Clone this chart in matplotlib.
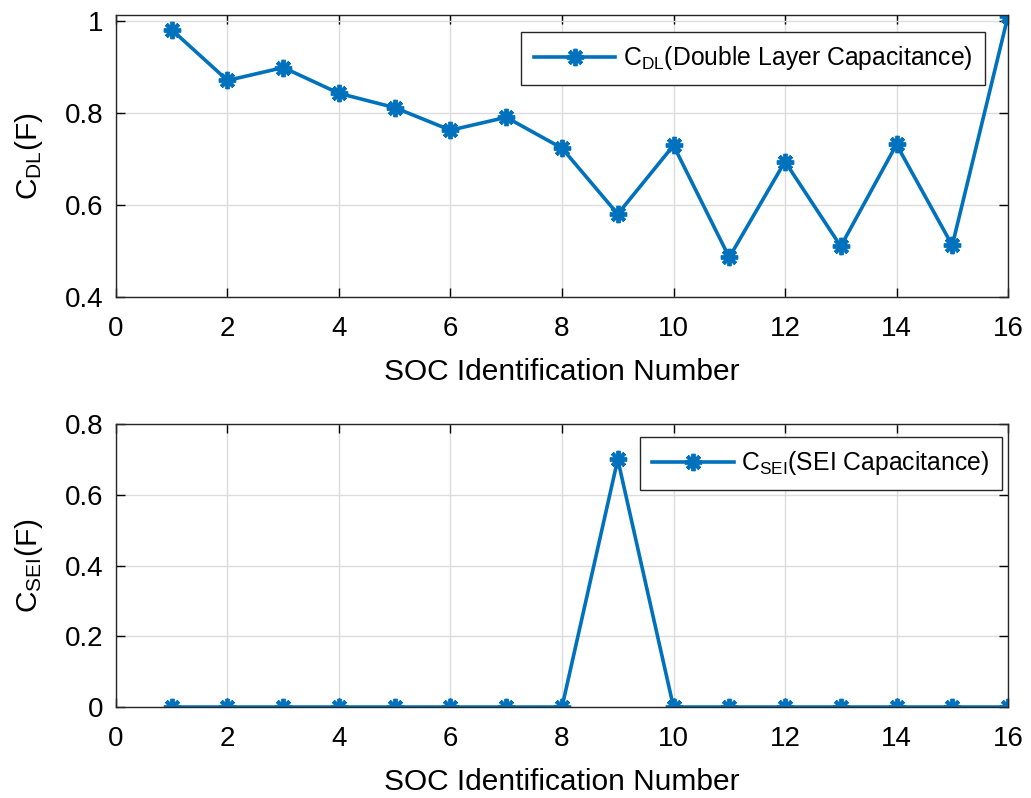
import matplotlib
matplotlib.use("Agg")
import matplotlib.pyplot as plt

plt.rcParams['font.family'] = ['Liberation Sans', 'DejaVu Sans']
plt.rcParams['mathtext.default'] = 'regular'

soc_id = list(range(1, 17))
c_dl = [0.980, 0.870, 0.898, 0.842, 0.811, 0.762, 0.790, 0.723,
        0.580, 0.729, 0.486, 0.694, 0.510, 0.731, 0.512, 1.010]
c_sei = [0, 0, 0, 0, 0, 0, 0, 0, 0.70, 0, 0, 0, 0, 0, 0, 0]

blue = '#0072BD'
star = (8, 2, 0)

fig = plt.figure(figsize=(10.31, 7.98), dpi=100)
ax1 = fig.add_axes([0.1125, 0.6278, 0.8652, 0.3534])
ax2 = fig.add_axes([0.1125, 0.1140, 0.8652, 0.3547])

def style(ax):
    ax.grid(True, color='#dcdcdc', linewidth=1)
    ax.set_axisbelow(True)
    ax.tick_params(direction='in', labelsize=20, length=6.5, width=1,
                   top=True, right=True)
    ax.tick_params(axis='x', pad=14)
    ax.tick_params(axis='y', pad=9)
    for s in ax.spines.values():
        s.set_linewidth(1)
        s.set_color('#262626')
    ax.set_xlim(0, 16)
    ax.set_xticks(range(0, 17, 2))
    ax.set_xlabel('SOC Identification Number', fontsize=21.5, labelpad=11)

def add_legend(ax, anchor):
    leg = ax.legend(loc='upper right', fontsize=17.8, fancybox=False,
                    edgecolor='#262626', framealpha=1, handlelength=3.3,
                    handletextpad=0.3, bbox_to_anchor=anchor,
                    borderpad=0.5, borderaxespad=0)
    leg.get_frame().set_linewidth(1)

ax1.plot(soc_id, c_dl, color=blue, linewidth=2.6, marker=star,
         markersize=12.5, markeredgewidth=2.8,
         label='C$_{DL}$(Double Layer Capacitance)')
style(ax1)
ax1.set_ylim(0.4, 1.012)
ax1.set_yticks([0.4, 0.6, 0.8, 1.0])
ax1.set_yticklabels(['0.4', '0.6', '0.8', '1'])
ax1.set_ylabel('C$_{DL}$(F)', fontsize=21.5, labelpad=14)
add_legend(ax1, (0.974, 0.940))

ax2.plot(soc_id, c_sei, color=blue, linewidth=2.6, marker=star,
         markersize=12.5, markeredgewidth=2.8,
         label='C$_{SEI}$(SEI Capacitance)')
style(ax2)
ax2.set_ylim(0, 0.8)
ax2.set_yticks([0, 0.2, 0.4, 0.6, 0.8])
ax2.set_yticklabels(['0', '0.2', '0.4', '0.6', '0.8'])
ax2.set_ylabel('C$_{SEI}$(F)', fontsize=21.5, labelpad=14)
add_legend(ax2, (0.993, 0.954))

fig.savefig('out.png', dpi=100)
